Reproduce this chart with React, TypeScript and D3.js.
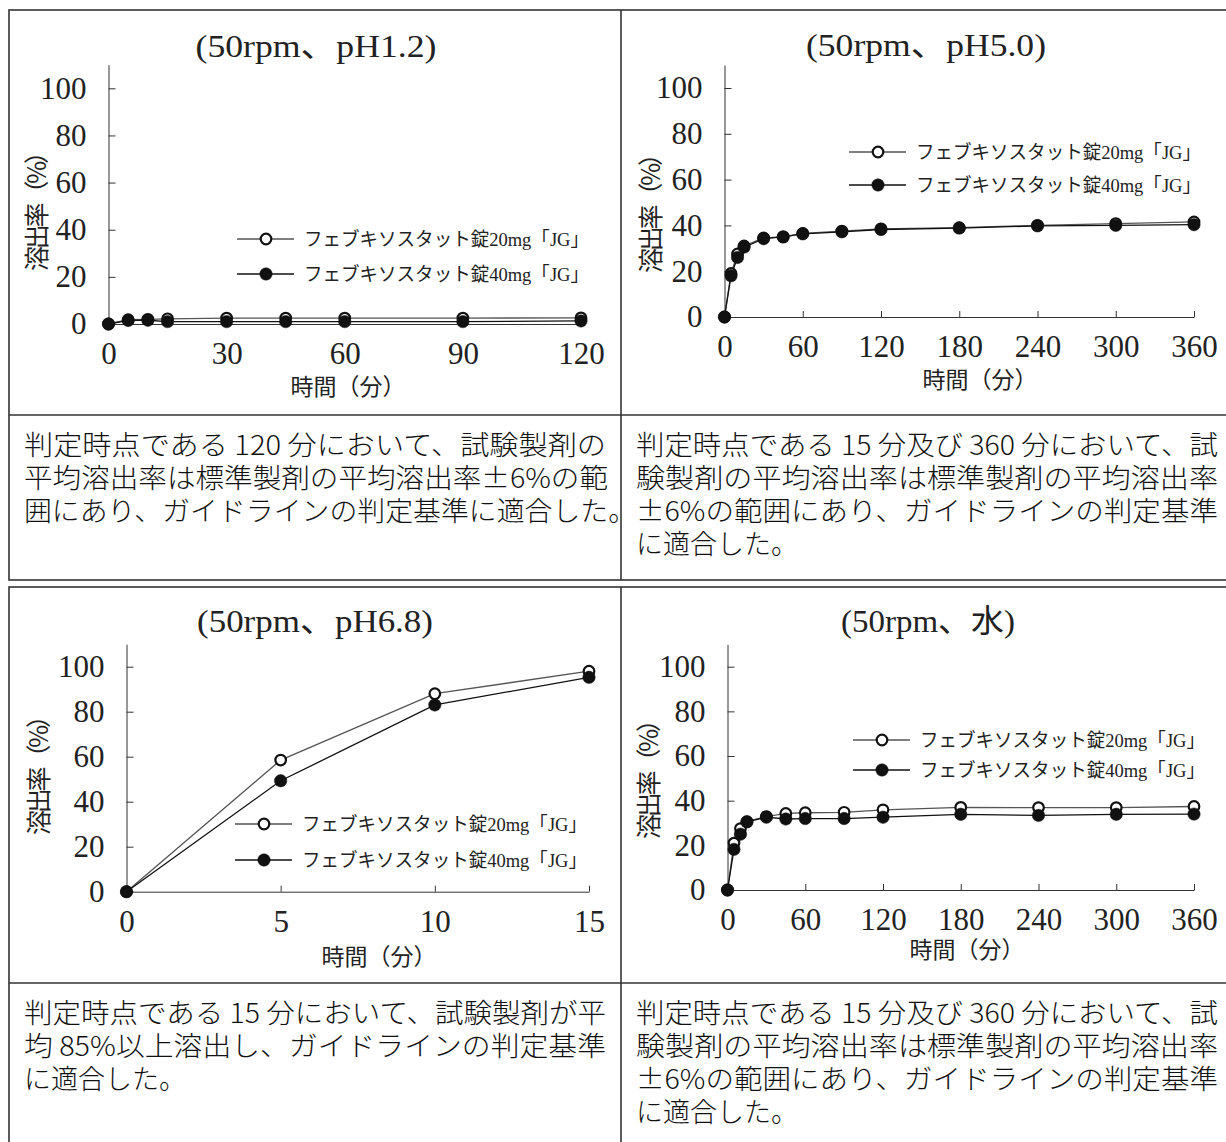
import React, { useEffect, useRef } from "react";
import * as d3 from "d3";

// time points (min)
const timesPh12 = [0, 5, 10, 15, 30, 45, 60, 90, 120];
const timesLong = [0, 5, 10, 15, 30, 45, 60, 90, 120, 180, 240, 300, 360];
const timesPh68 = [0, 5, 10, 15];

// dissolution (%)
const ph12Tab20 = [0, 1.8, 2, 2.2, 2.5, 2.5, 2.5, 2.5, 2.6];
const ph12Tab40 = [0, 1.5, 1.6, 1, 1, 1, 1, 1, 1.3];
const ph50Tab20 = [0, 19, 27.5, 31, 34.5, 35, 36.5, 37.5, 38.5, 39, 40, 40.8, 41.5];
const ph50Tab40 = [0, 18, 26, 30.5, 34.2, 35, 36.3, 37.2, 38.2, 38.8, 39.8, 40, 40.3];
const ph68Tab20 = [0, 58.5, 88, 98];
const ph68Tab40 = [0, 49.3, 83, 95.3];
const waterTab20 = [0, 21, 27.5, 30.6, 32.9, 34.3, 34.6, 34.8, 35.9, 37, 36.9, 36.9, 37.4];
const waterTab40 = [0, 18.2, 25, 30.5, 32.6, 31.8, 32, 32, 32.6, 33.9, 33.4, 33.9, 34];

// ticks
const yTicks = [0, 20, 40, 60, 80, 100];
const xTicksPh12 = [0, 30, 60, 90, 120];
const xTicksLong = [0, 60, 120, 180, 240, 300, 360];
const xTicksPh68 = [0, 5, 10, 15];

// labels
const seriesNames = ["フェブキソスタット錠20mg「JG」", "フェブキソスタット錠40mg「JG」"];
const panelTitles = ["(50rpm、pH1.2)", "(50rpm、pH5.0)", "(50rpm、pH6.8)", "(50rpm、水)"];
const xTitle = "時間（分）";
const yTitle = "溶出率（%）";

const judgePh12 = [
  "判定時点である 120 分において、試験製剤の",
  "平均溶出率は標準製剤の平均溶出率±6%の範",
  "囲にあり、ガイドラインの判定基準に適合した。",
];
const judgePh50 = [
  "判定時点である 15 分及び 360 分において、試",
  "験製剤の平均溶出率は標準製剤の平均溶出率",
  "±6%の範囲にあり、ガイドラインの判定基準",
  "に適合した。",
];
const judgePh68 = [
  "判定時点である 15 分において、試験製剤が平",
  "均 85%以上溶出し、ガイドラインの判定基準",
  "に適合した。",
];
const judgeWater = [
  "判定時点である 15 分及び 360 分において、試",
  "験製剤の平均溶出率は標準製剤の平均溶出率",
  "±6%の範囲にあり、ガイドラインの判定基準",
  "に適合した。",
];

const serif = "'Liberation Serif', 'Noto Sans CJK JP', serif";
const gothic = "'Noto Sans CJK JP', sans-serif";

const App = () => {
  const ref = useRef<SVGSVGElement>(null);

  useEffect(() => {
    const svg = d3.select(ref.current);
    svg.selectAll("*").remove();

    // table frames
    const frame = svg.append("g").attr("stroke", "#333").attr("stroke-width", 1.6).attr("fill", "none");
    frame.append("rect").attr("x", 9).attr("y", 10).attr("width", 1300).attr("height", 570);
    frame.append("line").attr("x1", 9).attr("x2", 1300).attr("y1", 415).attr("y2", 415);
    frame.append("line").attr("x1", 621).attr("x2", 621).attr("y1", 10).attr("y2", 580);
    frame.append("rect").attr("x", 9).attr("y", 587).attr("width", 1300).attr("height", 600);
    frame.append("line").attr("x1", 9).attr("x2", 1300).attr("y1", 983).attr("y2", 983);
    frame.append("line").attr("x1", 621).attr("x2", 621).attr("y1", 587).attr("y2", 1200);

    const panels = [
      { title: panelTitles[0], titleW: 241, cx: 316, ty: 57, times: timesPh12, s20: ph12Tab20, s40: ph12Tab40,
        xMax: 120, xTicks: xTicksPh12, x0: 108.5, x1: 581, y0: 324, y100: 88.3,
        yLab: [37, 205], xLab: [348, 387], leg: [237, 239, 274] },
      { title: panelTitles[1], titleW: 240, cx: 926, ty: 56, times: timesLong, s20: ph50Tab20, s40: ph50Tab40,
        xMax: 360, xTicks: xTicksLong, x0: 724.5, x1: 1194, y0: 317, y100: 88,
        yLab: [651, 207], xLab: [980, 380], leg: [849, 152, 185] },
      { title: panelTitles[2], titleW: 236, cx: 315, ty: 632, times: timesPh68, s20: ph68Tab20, s40: ph68Tab40,
        xMax: 15, xTicks: xTicksPh68, x0: 126.5, x1: 589, y0: 891.7, y100: 666.7,
        yLab: [39.5, 769], xLab: [379, 957], leg: [235, 824, 860] },
      { title: panelTitles[3], titleW: 174, cx: 928, ty: 632, times: timesLong, s20: waterTab20, s40: waterTab40,
        xMax: 360, xTicks: xTicksLong, x0: 727.5, x1: 1194, y0: 890, y100: 666.7,
        yLab: [649, 773], xLab: [967, 950], leg: [853, 740, 770] },
    ];

    panels.forEach((p) => {
      const g = svg.append("g");

      g.append("text")
        .attr("x", p.cx).attr("y", p.ty)
        .attr("text-anchor", "middle")
        .attr("font-family", serif).attr("font-size", 32).attr("fill", "#222")
        .attr("textLength", p.titleW).attr("lengthAdjust", "spacingAndGlyphs")
        .text(p.title);

      const xScale = d3.scaleLinear().domain([0, p.xMax]).range([p.x0, p.x1]);
      const yScale = d3.scaleLinear().domain([0, 100]).range([p.y0, p.y100]);
      const yAxisScale = yScale.copy().domain([0, 110]).range([p.y0, yScale(110)]);

      const yAxis = g.append("g")
        .attr("transform", `translate(${p.x0},0)`)
        .call(d3.axisLeft(yAxisScale).tickValues(yTicks).tickSizeInner(-7).tickSizeOuter(0).tickPadding(22));
      yAxis.attr("font-family", serif).attr("font-size", 31).attr("color", "#333");
      yAxis.selectAll("text").attr("fill", "#222");

      const xAxis = g.append("g")
        .attr("transform", `translate(0,${p.y0})`)
        .call(d3.axisBottom(xScale).tickValues(p.xTicks).tickSizeInner(-6).tickSizeOuter(0).tickPadding(18));
      xAxis.attr("font-family", serif).attr("font-size", 31).attr("color", "#333");
      xAxis.selectAll("text").attr("fill", "#222");

      g.append("text")
        .attr("x", p.xLab[0]).attr("y", p.xLab[1]).attr("dy", "0.35em")
        .attr("text-anchor", "middle")
        .attr("font-family", gothic).attr("font-size", 23).attr("fill", "#222")
        .text(xTitle);

      g.append("text")
        .attr("transform", `translate(${p.yLab[0]},${p.yLab[1]}) rotate(-90)`)
        .attr("dy", "0.35em")
        .attr("text-anchor", "middle")
        .attr("font-family", gothic).attr("font-size", 25).attr("fill", "#222")
        .attr("textLength", 132).attr("lengthAdjust", "spacing")
        .text(yTitle);

      const line = d3.line<[number, number]>()
        .x((d) => xScale(d[0]))
        .y((d) => yScale(d[1]));

      const series = [
        { vals: p.s20, color: "#555", open: true },
        { vals: p.s40, color: "#111", open: false },
      ];

      series.forEach((s) => {
        const pts = p.times.map((t, i) => [t, s.vals[i]] as [number, number]);
        g.append("path")
          .attr("d", line(pts))
          .attr("fill", "none")
          .attr("stroke", s.color)
          .attr("stroke-width", 1.3);
      });

      series.forEach((s) => {
        const pts = p.times.map((t, i) => [t, s.vals[i]] as [number, number]);
        g.append("g")
          .selectAll("circle")
          .data(pts)
          .join("circle")
          .attr("cx", (d) => xScale(d[0]))
          .attr("cy", (d) => yScale(d[1]))
          .attr("r", s.open ? 5.3 : 6.2)
          .attr("fill", s.open ? "#fff" : "#111")
          .attr("stroke", "#111")
          .attr("stroke-width", s.open ? 2.2 : 0.5);
      });

      // legend
      series.forEach((s, i) => {
        const ly = p.leg[1 + i];
        const lx = p.leg[0];
        g.append("line")
          .attr("x1", lx).attr("x2", lx + 57).attr("y1", ly).attr("y2", ly)
          .attr("stroke", s.color).attr("stroke-width", 1.3);
        g.append("circle")
          .attr("cx", lx + 29).attr("cy", ly)
          .attr("r", s.open ? 5.3 : 6.2)
          .attr("fill", s.open ? "#fff" : "#111")
          .attr("stroke", "#111")
          .attr("stroke-width", s.open ? 2.2 : 0.5);
        g.append("text")
          .attr("x", lx + 67).attr("y", ly).attr("dy", "0.35em")
          .attr("font-family", serif).attr("font-size", 19).attr("fill", "#222")
          .attr("textLength", 285).attr("lengthAdjust", "spacingAndGlyphs")
          .text(seriesNames[i]);
      });
    });

    // judgement texts
    const cells = [
      { lines: judgePh12, x: 24, y: 446, widths: [582, 584, 612] },
      { lines: judgePh50, x: 636, y: 446, widths: [582, 582, 582, 0] },
      { lines: judgePh68, x: 24, y: 1014, widths: [582, 582, 0] },
      { lines: judgeWater, x: 636, y: 1014, widths: [582, 582, 582, 0] },
    ];
    cells.forEach((c) => {
      c.lines.forEach((ln, i) => {
        const t = svg.append("text")
          .attr("x", c.x).attr("y", c.y + i * 33).attr("dy", "0.35em")
          .attr("font-family", gothic).attr("font-size", 27).attr("font-weight", 300)
          .attr("fill", "#111")
          .text(ln);
        if (c.widths[i]) t.attr("textLength", c.widths[i]).attr("lengthAdjust", "spacingAndGlyphs");
      });
    });
  }, []);

  return (
    <div style={{ position: "absolute", left: 0, top: 0 }}>
      <svg ref={ref} width={1226} height={1142} style={{ display: "block", background: "#fff" }} />
    </div>
  );
};

export default App;
